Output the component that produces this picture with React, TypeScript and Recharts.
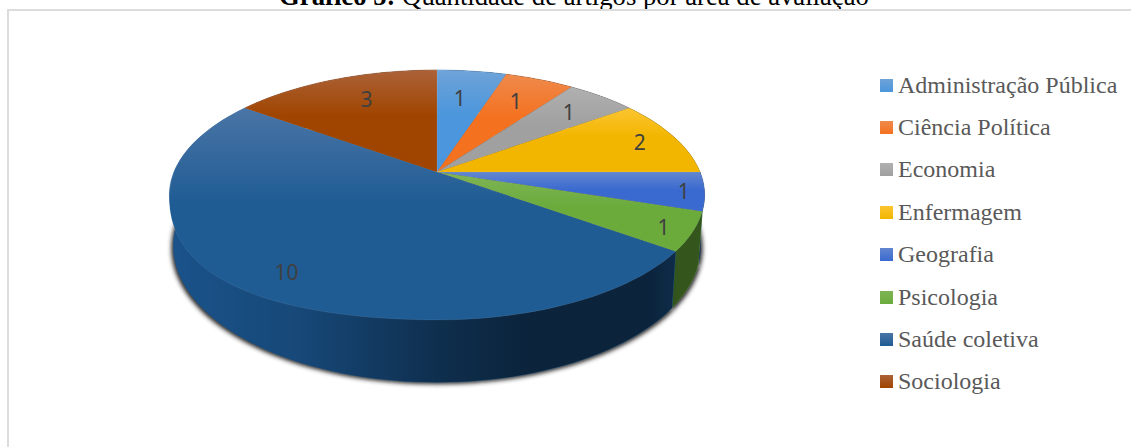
import { Legend, Pie, PieChart } from "recharts";

const categories = [
  "Administração Pública",
  "Ciência Política",
  "Economia",
  "Enfermagem",
  "Geografia",
  "Psicologia",
  "Saúde coletiva",
  "Sociologia",
];
const artigos = [1, 1, 1, 2, 1, 1, 10, 3];

const sliceColors = ["#4b96dc", "#f4711f", "#a0a0a0", "#f2b600", "#3a6ad0", "#6aab3c", "#1f5c94", "#a04500"];
const topColors = ["#6ea3d8", "#ef8a4c", "#b0b0b0", "#fcc531", "#6286d0", "#7fb455", "#4a74a6", "#ac6238"];
const wallColors = ["#2f6ca8", "#b04f12", "#707070", "#b08400", "#2c4d92", "#68ab3a", "#1c5a96", "#74320a"];
// how far out along its radius each number sits, and a small turn in degrees
const labelRadius = [0.7, 0.74, 0.78, 0.85, 0.925, 0.9, 0.85, 0.74];
const labelTurn = [1, 0, 0, 0, -0.5, -1, 0, -3];

const rows = categories.map((name, i) => ({ name, value: artigos[i], fill: sliceColors[i] }));

const PIE_X = 437;
const PIE_Y = 172;
const PIE_R = 263;

// the disc is seen in perspective, so angles go through this instead of a plain ellipse
const SQUASH = 0.459;
const TILT = 0.184;
const BULGE = 28; // lower left of the top face sags a little in the original
const project = (cx: number, cy: number, r: number, deg: number, frac = 1, sag = true) => {
  const a = (deg * Math.PI) / 180;
  const u = Math.cos(a) * frac;
  const v = Math.sin(a) * frac;
  const w = 1 + TILT * v;
  const extra = sag && u < 0 && v < 0 ? BULGE * u * u * -v : 0;
  return [cx + (r * u) / w, cy - (r * SQUASH * v) / w + extra];
};
// same point on the underside of the disc
const lower = ([x, y]: number[], cx: number, cy: number) => [cx + (x - cx) * 0.985, cy + 49 + (y - cy) * 1.09];

const arc = (p: any, sag: boolean, map: (q: number[]) => number[] = (q) => q) => {
  const pts: number[][] = [];
  const steps = Math.max(2, Math.ceil(Math.abs(p.endAngle - p.startAngle) / 2));
  for (let i = 0; i <= steps; i++) {
    const deg = p.startAngle + ((p.endAngle - p.startAngle) * i) / steps;
    pts.push(map(project(p.cx, p.cy, p.outerRadius, deg, 1, sag)));
  }
  return pts;
};
const toPath = (pts: number[][]) => pts.map((q, i) => (i ? "L" : "M") + q[0].toFixed(1) + " " + q[1].toFixed(1)).join(" ");

const TopSlice = (p: any) => {
  const i = categories.indexOf(p.name);
  return (
    <path
      d={`M${p.cx} ${p.cy} ${toPath(arc(p, true)).replace("M", "L")} Z`}
      fill={`url(#top${i})`}
      stroke="rgba(255,255,255,0.1)"
      strokeWidth={0.7}
    />
  );
};

const WallSlice = (p: any) => {
  const i = categories.indexOf(p.name);
  const top = arc(p, false);
  const bottom = arc(p, false, (q) => lower(q, p.cx, p.cy)).reverse();
  const d = toPath([...top, ...bottom]) + " Z";
  return (
    <g>
      <path d={d} fill={wallColors[i]} stroke={wallColors[i]} strokeWidth={0.5} />
      <path d={d} fill="url(#wallShade)" />
    </g>
  );
};

const ShadowSlice = (p: any) => {
  const rim = arc(p, false, (q) => {
    const [x, y] = lower(q, p.cx, p.cy);
    return [p.cx + (x - p.cx) * 1.008, y + 2];
  });
  return <path d={`M${p.cx} ${p.cy + 60} ${toPath(rim).replace("M", "L")} Z`} fill="#2a2a2a" filter="url(#rimBlur)" />;
};

const renderNumber = (p: any) => {
  const i = categories.indexOf(p.name);
  const [x, y] = project(p.cx, p.cy, p.outerRadius, p.midAngle + labelTurn[i], labelRadius[i]);
  return (
    <text x={x} y={y} textAnchor="middle" dominantBaseline="central" fontFamily="'Noto Sans'" fontSize={21} fill="#404040">
      {p.value}
    </text>
  );
};

const renderLegend = (props: any) => {
  const seen = new Set<string>();
  const items = (props.payload || []).filter((it: any) => {
    if (seen.has(it.value)) return false;
    seen.add(it.value);
    return true;
  });
  return (
    <div>
      {items.map((it: any) => {
        const i = categories.indexOf(it.value);
        return (
          <div key={it.value} style={{ display: "flex", alignItems: "center", height: 42.4 }}>
            <span
              style={{
                width: 13,
                height: 13,
                marginRight: 5,
                background: `linear-gradient(${topColors[i]}, ${sliceColors[i]})`,
              }}
            />
            <span style={{ fontFamily: "'Liberation Serif'", fontSize: 24, color: "#595959", whiteSpace: "nowrap" }}>
              {it.value}
            </span>
          </div>
        );
      })}
    </div>
  );
};

export default function App() {
  return (
    <div style={{ position: "absolute", left: 0, top: 0, width: 1131, height: 447, overflow: "hidden", background: "#fff" }}>
      <div
        style={{
          position: "absolute",
          left: 0,
          width: 1131,
          top: -16.5,
          height: 25.5,
          lineHeight: "24px",
          overflow: "hidden",
          textAlign: "center",
          fontFamily: "'Liberation Serif'",
          fontSize: 26.7,
          color: "#000",
          whiteSpace: "nowrap",
          paddingLeft: 17,
          boxSizing: "border-box",
        }}
      >
        <b>Gráfico 5:</b> Quantidade de artigos por área de avaliação
      </div>
      <div style={{ position: "absolute", left: 7, top: 9, right: 0, bottom: 0, borderLeft: "2px solid #dcdcdc", borderTop: "2px solid #dcdcdc" }} />
      <div style={{ position: "absolute", left: 0, top: 0 }}>
        <PieChart width={1131} height={447} margin={{ top: 0, right: 0, bottom: 0, left: 0 }}>
          <defs>
            {categories.map((name, i) => (
              <linearGradient key={name} id={`top${i}`} x1={0} y1={0} x2={0} y2={1}>
                <stop offset="0" stopColor={topColors[i]} />
                <stop offset="0.45" stopColor={sliceColors[i]} />
                <stop offset="1" stopColor={sliceColors[i]} />
              </linearGradient>
            ))}
            <linearGradient id="wallShade" gradientUnits="userSpaceOnUse" x1={170} y1={0} x2={705} y2={0}>
              <stop offset="0" stopColor="#000" stopOpacity={0.08} />
              <stop offset="0.24" stopColor="#000" stopOpacity={0.2} />
              <stop offset="0.5" stopColor="#000" stopOpacity={0.48} />
              <stop offset="0.66" stopColor="#000" stopOpacity={0.6} />
              <stop offset="0.9" stopColor="#000" stopOpacity={0.6} />
              <stop offset="0.95" stopColor="#000" stopOpacity={0.5} />
              <stop offset="1" stopColor="#000" stopOpacity={0.5} />
            </linearGradient>
            <filter id="rimBlur" filterUnits="userSpaceOnUse" x={0} y={0} width={1131} height={447}>
              <feGaussianBlur stdDeviation={2} />
            </filter>
          </defs>
          <Pie
            data={rows}
            dataKey="value"
            nameKey="name"
            cx={PIE_X}
            cy={PIE_Y}
            outerRadius={PIE_R}
            startAngle={90}
            endAngle={-270}
            stroke="none"
            legendType="none"
            shape={ShadowSlice}
            isAnimationActive={false}
          />
          <Pie
            data={rows}
            dataKey="value"
            nameKey="name"
            cx={PIE_X}
            cy={PIE_Y}
            outerRadius={PIE_R}
            startAngle={90}
            endAngle={-270}
            stroke="none"
            legendType="none"
            shape={WallSlice}
            isAnimationActive={false}
          />
          <Pie
            data={rows}
            dataKey="value"
            nameKey="name"
            cx={PIE_X}
            cy={PIE_Y}
            outerRadius={PIE_R}
            startAngle={90}
            endAngle={-270}
            stroke="none"
            legendType="square"
            shape={TopSlice}
            label={renderNumber}
            labelLine={false}
            isAnimationActive={false}
          />
          <Legend
            layout="vertical"
            align="right"
            verticalAlign="top"
            content={renderLegend}
            wrapperStyle={{ left: 880, top: 64, right: "auto", width: 251 }}
          />
        </PieChart>
      </div>
    </div>
  );
}
